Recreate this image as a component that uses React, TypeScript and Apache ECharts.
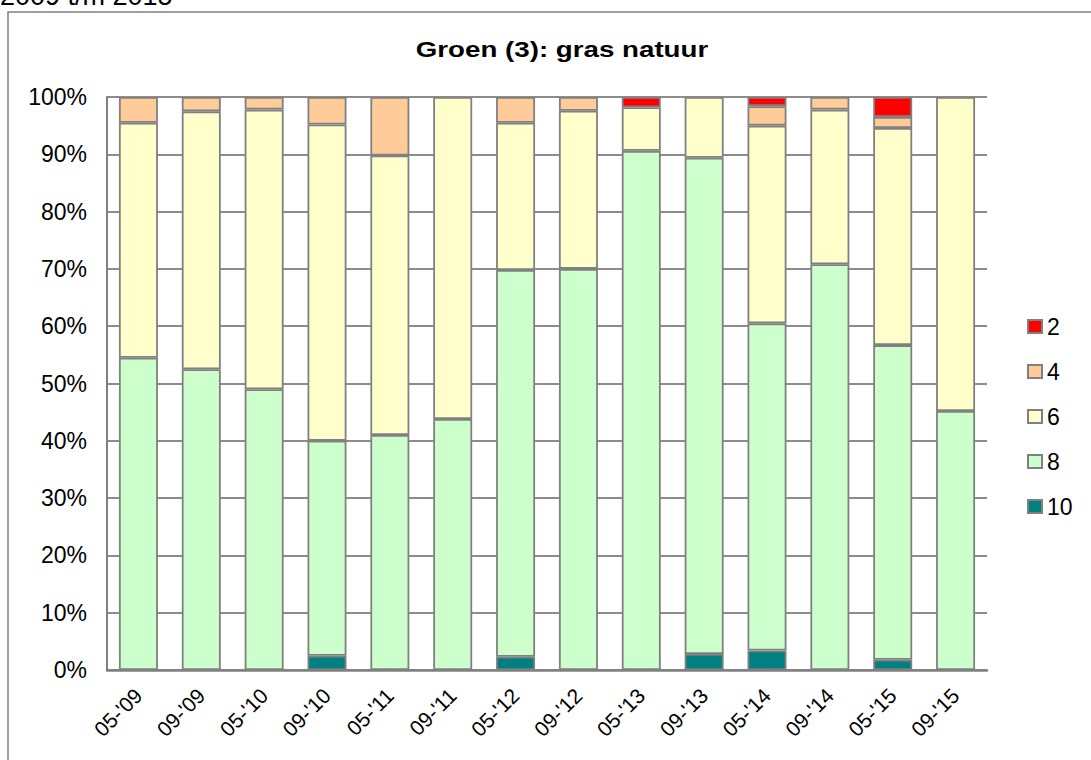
import React, { useEffect, useRef } from "react";
import * as echarts from "echarts";

const categories = ["05-'09", "09-'09", "05-'10", "09-'10", "05-'11", "09-'11", "05-'12", "09-'12", "05-'13", "09-'13", "05-'14", "09-'14", "05-'15", "09-'15"];
const s10 = [0, 0, 0, 2.5, 0, 0, 2.3, 0, 0, 2.8, 3.4, 0, 1.8, 0];
const s8 = [54.5, 52.5, 49, 37.5, 41, 43.8, 67.5, 70, 90.6, 86.6, 57.1, 70.8, 54.9, 45.2];
const s6 = [41, 45, 48.8, 55.2, 48.8, 56.2, 25.7, 27.6, 7.6, 10.6, 34.5, 27, 37.9, 54.8];
const s4 = [4.5, 2.5, 2.2, 4.8, 10.2, 0, 4.5, 2.4, 0, 0, 3.4, 2.2, 1.9, 0];
const s2 = [0, 0, 0, 0, 0, 0, 0, 0, 1.8, 0, 1.6, 0, 3.5, 0];
const legendOrder = ["2", "4", "6", "8", "10"];

const FONT = "'Liberation Sans', Arial, sans-serif";

export default function App() {
  const ref = useRef<HTMLDivElement>(null);
  useEffect(() => {
    const chart = echarts.init(ref.current!, null, { renderer: "svg" });
    const mk = (name: string, data: number[], color: string) => ({
      name,
      type: "bar",
      stack: "all",
      data: data.map((v) => (v === 0 ? null : v)),
      barCategoryGap: "38%",
      itemStyle: { color, borderColor: "#808080", borderWidth: 1.8 },
    });
    chart.setOption({
      animation: false,
      textStyle: { fontFamily: FONT },
      graphic: [
        {
          type: "rect",
          shape: { x: 8, y: 12, width: 1200, height: 900 },
          style: { fill: "none", stroke: "#808080", lineWidth: 1.5 },
          silent: true,
        },
        {
          type: "text",
          x: 0,
          y: -4,
          style: {
            text: "2009 t/m 2015",
            fontSize: 27,
            fontFamily: FONT,
            fill: "#000",
            verticalAlign: "middle",
          },
        },
        {
          type: "text",
          x: 562,
          y: 49,
          scaleX: 1.26,
          originX: 0,
          style: {
            text: "Groen (3): gras natuur",
            fontSize: 22,
            fontWeight: "bold",
            fontFamily: FONT,
            fill: "#000",
            align: "center",
            verticalAlign: "middle",
          },
        },
      ],
      legend: {
        orient: "vertical",
        left: 1027,
        top: 315,
        itemWidth: 14,
        itemHeight: 13,
        itemGap: 22,
        icon: "rect",
        padding: 0,
        data: legendOrder,
        textStyle: { fontSize: 23, color: "#000", fontFamily: FONT },
      },
      grid: { left: 107, top: 97, width: 880, height: 573, containLabel: false },
      xAxis: {
        type: "category",
        data: categories,
        axisLine: { lineStyle: { color: "#808080", width: 2.5 } },
        axisTick: { show: false },
        axisLabel: { rotate: 45, fontSize: 21, color: "#000", margin: 22, fontFamily: FONT },
      },
      yAxis: {
        type: "value",
        min: 0,
        max: 100,
        interval: 10,
        axisLine: { show: true, lineStyle: { color: "#808080", width: 2 } },
        axisTick: { show: false },
        splitLine: { lineStyle: { color: "#8c8c8c", width: 2 } },
        axisLabel: {
          fontSize: 23,
          color: "#000",
          margin: 20,
          fontFamily: FONT,
          formatter: "{value}%",
        },
      },
      series: [
        mk("10", s10, "#008080"),
        mk("8", s8, "#CCFFCC"),
        mk("6", s6, "#FFFFCC"),
        mk("4", s4, "#FFCC99"),
        mk("2", s2, "#FF0000"),
      ],
    });
    return () => chart.dispose();
  }, []);
  return (
    <div
      ref={ref}
      style={{ position: "fixed", left: 0, top: 0, width: 1091, height: 760, background: "#fff" }}
    />
  );
}
